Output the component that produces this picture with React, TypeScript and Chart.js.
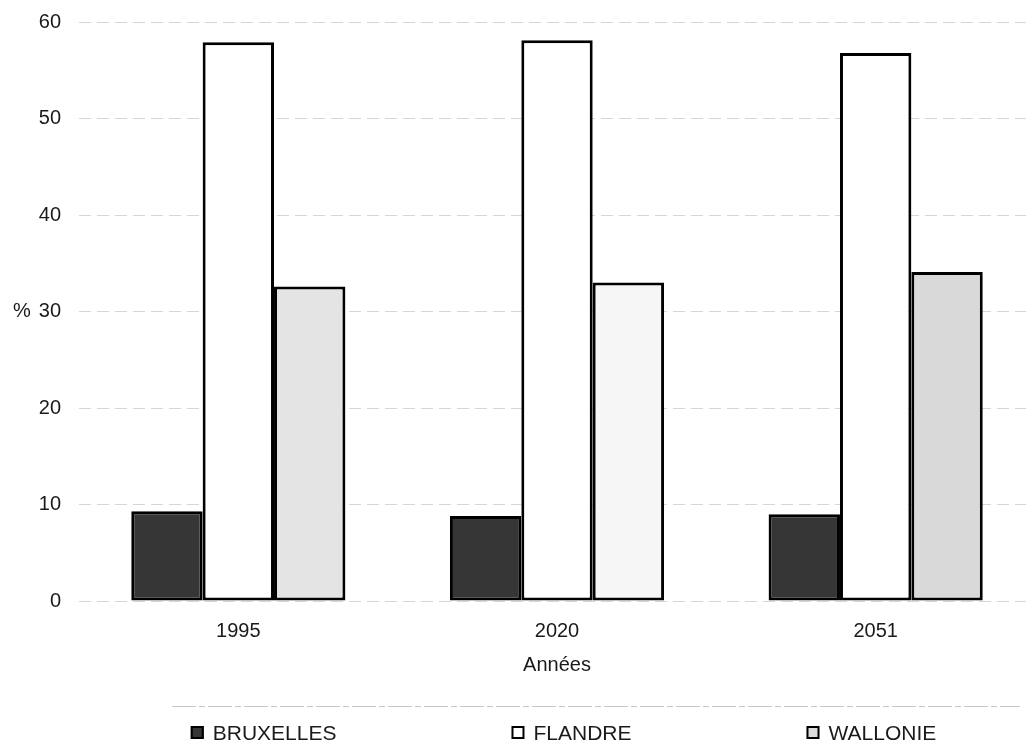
import React, { useEffect, useRef } from 'react';
import { Chart, registerables } from 'chart.js';

Chart.register(...registerables);

const years = ['1995', '2020', '2051'];
const bruxelles = [9.3, 8.8, 9.0];
const flandre = [57.9, 58.1, 56.8];
const wallonie = [32.6, 33.0, 34.1];
const seriesNames = ['BRUXELLES', 'FLANDRE', 'WALLONIE'];
const yTicks = [0, 10, 20, 30, 40, 50, 60];
const xTitle = 'Années';
const yUnit = '%';
const yUnitAt = 30;

const FONT = '"Liberation Sans", Arial, Helvetica, sans-serif';
const TEXT = '#1a1a1a';

const darkFill = '#363636';
const whiteFill = '#ffffff';
const wallonieFills = ['#e4e4e4', '#f6f6f6', '#d9d9d9'];
const legendFills = [darkFill, whiteFill, '#dcdcdc'];

const extrasPlugin = {
  id: 'extras',
  afterDraw(chart: any) {
    const ctx = chart.ctx;
    const y = chart.scales.y;
    ctx.save();
    // "%" unit label left of the 30 tick
    ctx.font = `20px ${FONT}`;
    ctx.fillStyle = TEXT;
    ctx.textAlign = 'left';
    ctx.textBaseline = 'middle';
    ctx.fillText(yUnit, 13, y.getPixelForValue(yUnitAt));

    // faint legend frame line
    ctx.strokeStyle = '#c8c8c8';
    ctx.lineWidth = 1;
    ctx.setLineDash([24, 3, 6, 3]);
    ctx.beginPath();
    ctx.moveTo(172, 706.5);
    ctx.lineTo(1020, 706.5);
    ctx.stroke();
    ctx.setLineDash([]);

    // legend
    ctx.font = `21px ${FONT}`;
    const box = 13;
    const gap = 175;
    const textOff = 9;
    const widths = seriesNames.map((n) => box + textOff + ctx.measureText(n).width);
    const total = widths.reduce((a, b) => a + b, 0) + gap * (seriesNames.length - 1);
    let x = 563.5 - total / 2;
    const cy = 733;
    seriesNames.forEach((name, i) => {
      ctx.fillStyle = legendFills[i];
      ctx.fillRect(x, cy - 7, box, box);
      ctx.strokeStyle = '#000';
      ctx.lineWidth = 2;
      ctx.strokeRect(x + 1, cy - 6, box - 2, box - 2);
      ctx.fillStyle = TEXT;
      ctx.textBaseline = 'middle';
      ctx.fillText(name, x + box + textOff, cy + 1);
      x += widths[i] + gap;
    });
    ctx.restore();
  },
};

export default function App() {
  const ref = useRef<HTMLCanvasElement>(null);

  useEffect(() => {
    if (!ref.current) return;
    Chart.defaults.font.family = FONT;
    const barStyle = {
      borderColor: '#000',
      borderWidth: 3,
      borderSkipped: false as const,
    };
    const chart = new Chart(ref.current, {
      type: 'bar',
      data: {
        labels: years,
        datasets: [
          { label: seriesNames[0], data: bruxelles, backgroundColor: darkFill, ...barStyle },
          { label: seriesNames[1], data: flandre, backgroundColor: whiteFill, ...barStyle },
          { label: seriesNames[2], data: wallonie, backgroundColor: wallonieFills, ...barStyle },
        ],
      },
      options: {
        responsive: false,
        animation: false,
        datasets: { bar: { categoryPercentage: 0.672, barPercentage: 1 } },
        layout: { padding: { top: 22, right: 25, left: 0, bottom: 0 } },
        plugins: { legend: { display: false }, tooltip: { enabled: false } },
        scales: {
          x: {
            grid: { display: false, drawTicks: false },
            border: { display: false },
            ticks: { color: TEXT, font: { size: 20, family: FONT }, padding: 18 },
            title: {
              display: true,
              text: xTitle,
              color: TEXT,
              font: { size: 20, family: FONT },
              padding: { top: 0, bottom: 71 },
            },
            afterFit: (s: any) => {
              s.height = 147;
              s.paddingLeft = 0;
              s.paddingRight = 0;
            },
          },
          y: {
            min: 0,
            max: 60,
            grid: {
              color: '#d6d6d6',
              lineWidth: 1,
              drawTicks: false,
            },
            border: { display: false, dash: [12, 6] },
            ticks: { color: TEXT, font: { size: 20, family: FONT }, padding: 18 },
            afterBuildTicks: (s: any) => {
              s.ticks = yTicks.map((v) => ({ value: v }));
            },
            afterFit: (s: any) => {
              s.width = 79;
              s.paddingTop = 0;
              s.paddingBottom = 0;
            },
          },
        },
      },
      plugins: [extrasPlugin],
    });
    return () => chart.destroy();
  }, []);

  return (
    <div
      style={{
        position: 'fixed',
        left: 0,
        top: 0,
        width: 1026,
        height: 748,
        overflow: 'hidden',
        background: '#fff',
      }}
    >
      <canvas ref={ref} width={1060} height={748} style={{ display: 'block' }} />
    </div>
  );
}
